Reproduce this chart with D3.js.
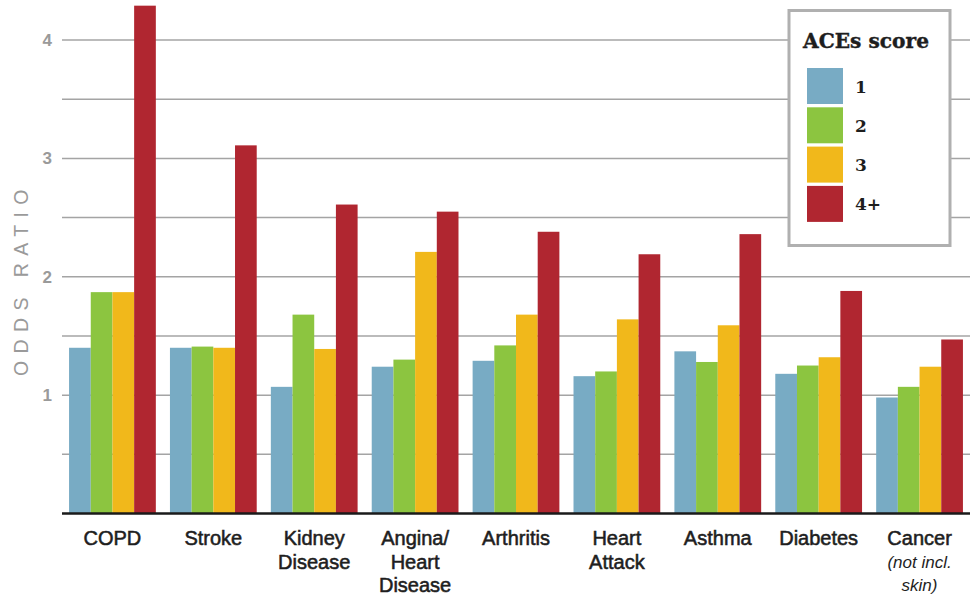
<!DOCTYPE html>
<html>
<head>
<meta charset="utf-8">
<script src="https://cdn.jsdelivr.net/npm/d3@7"></script>
<style>
  html, body { margin: 0; padding: 0; background: #fff; }
  svg { display: block; }
</style>
</head>
<body>
<div id="chart"></div>
<script>
// ---- Data ----
const categories = ["COPD", "Stroke", "Kidney Disease", "Angina/ Heart Disease", "Arthritis", "Heart Attack", "Asthma", "Diabetes", "Cancer"];
const categoryLines = [["COPD"], ["Stroke"], ["Kidney", "Disease"], ["Angina/", "Heart", "Disease"], ["Arthritis"], ["Heart", "Attack"], ["Asthma"], ["Diabetes"], ["Cancer"]];
const categoryNotes = ["", "", "", "", "", "", "", "", "(not incl.|skin)"];
const seriesNames = ["1", "2", "3", "4+"];
const score1 = [1.40, 1.40, 1.07, 1.24, 1.29, 1.16, 1.37, 1.18, 0.98];
const score2 = [1.87, 1.41, 1.68, 1.30, 1.42, 1.20, 1.28, 1.25, 1.07];
const score3 = [1.87, 1.40, 1.39, 2.21, 1.68, 1.64, 1.59, 1.32, 1.24];
const score4 = [4.29, 3.11, 2.61, 2.55, 2.38, 2.19, 2.36, 1.88, 1.47];
const yTickLabels = [1, 2, 3, 4];
const yGridValues = [0.5, 1, 1.5, 2, 2.5, 3, 3.5, 4];
const seriesColors = ["#78abc4", "#8cc540", "#f1b81b", "#b02630"];
const legendTitle = "ACEs score";
const yAxisTitle = "ODDS RATIO";

const allSeries = [score1, score2, score3, score4];

const W = 977, H = 598;
const svg = d3.select("#chart").append("svg").attr("width", W).attr("height", H);

const x = d3.scaleBand().domain(categories).range([62, 970]).paddingInner(0.14).paddingOuter(0.07);
const xs = d3.scaleBand().domain(seriesNames).range([0, x.bandwidth()]).padding(0);
const y = d3.scaleLinear().domain([0, 4]).range([513.5, 40]);

// gridlines
svg.append("g").selectAll("line").data(yGridValues).join("line")
  .attr("x1", 62).attr("x2", 970)
  .attr("y1", d => y(d)).attr("y2", d => y(d))
  .attr("stroke", "#a4a4a4").attr("stroke-width", 1.5);

// y tick labels via axis
const yAxis = d3.axisLeft(y).tickValues(yTickLabels).tickSize(0).tickPadding(0).tickFormat(d3.format("d"));
const gy = svg.append("g").attr("transform", "translate(52,0)").call(yAxis);
gy.select(".domain").remove();
gy.selectAll("text")
  .attr("font-family", "'Liberation Sans', Arial, sans-serif")
  .attr("font-size", 17).attr("font-weight", "bold").attr("fill", "#9a9a9a");

// y axis title
svg.append("text")
  .attr("transform", "translate(28,279) rotate(-90)")
  .attr("text-anchor", "middle")
  .attr("font-family", "'Liberation Sans', Arial, sans-serif")
  .attr("font-size", 19.5).attr("fill", "#9a9a9a")
  .attr("letter-spacing", 7.4)
  .text(yAxisTitle);

// bars
const groups = svg.append("g").selectAll("g").data(categories).join("g")
  .attr("transform", d => `translate(${x(d)},0)`);
groups.selectAll("rect")
  .data((c, i) => seriesNames.map((s, j) => ({ s, v: allSeries[j][i], j })))
  .join("rect")
  .attr("x", d => xs(d.s))
  .attr("width", xs.bandwidth())
  .attr("y", d => y(d.v))
  .attr("height", d => y(0) - y(d.v))
  .attr("fill", d => seriesColors[d.j]);

// baseline
svg.append("line").attr("x1", 62).attr("x2", 970).attr("y1", y(0)).attr("y2", y(0))
  .attr("stroke", "#1a1a1a").attr("stroke-width", 2.6);

// category labels
const labG = svg.append("g");
categories.forEach((c, i) => {
  const cx = x(c) + x.bandwidth() / 2;
  const t = labG.append("text").attr("text-anchor", "middle")
    .attr("font-family", "'Liberation Sans', Arial, sans-serif")
    .attr("font-size", 20).attr("fill", "#1e1e1e")
    .attr("stroke", "#1e1e1e").attr("stroke-width", 0.55);
  categoryLines[i].forEach((ln, k) => {
    t.append("tspan").attr("x", cx).attr("y", 545 + k * 23.5).text(ln);
  });
  if (categoryNotes[i]) {
    const n = labG.append("text").attr("text-anchor", "middle")
      .attr("font-family", "'Liberation Sans', Arial, sans-serif")
      .attr("font-size", 17).attr("font-style", "italic").attr("fill", "#1e1e1e");
    categoryNotes[i].split("|").forEach((ln, k) => {
      n.append("tspan").attr("x", cx).attr("y", 568 + k * 22.5).text(ln);
    });
  }
});

// legend
const lg = svg.append("g");
lg.append("rect").attr("x", 789).attr("y", 10.5).attr("width", 161).attr("height", 235)
  .attr("fill", "#fff").attr("stroke", "#b0b0b0").attr("stroke-width", 3);
lg.append("text").attr("x", 803).attr("y", 48)
  .attr("font-family", "'DejaVu Serif', serif").attr("font-weight", "bold")
  .attr("font-size", 21).attr("fill", "#1e1e1e")
  .attr("stroke", "#1e1e1e").attr("stroke-width", 0.4)
  .attr("textLength", 126).attr("lengthAdjust", "spacingAndGlyphs")
  .text(legendTitle);
seriesNames.forEach((s, j) => {
  lg.append("rect").attr("x", 807).attr("y", 68 + j * 39.3).attr("width", 36).attr("height", 36)
    .attr("fill", seriesColors[j]);
  lg.append("text").attr("x", 855).attr("y", 68 + j * 39.3 + 24.5)
    .attr("font-family", "'DejaVu Serif', serif").attr("font-weight", "bold")
    .attr("font-size", 17).attr("fill", "#1e1e1e")
    .text(s);
});
</script>
</body>
</html>
